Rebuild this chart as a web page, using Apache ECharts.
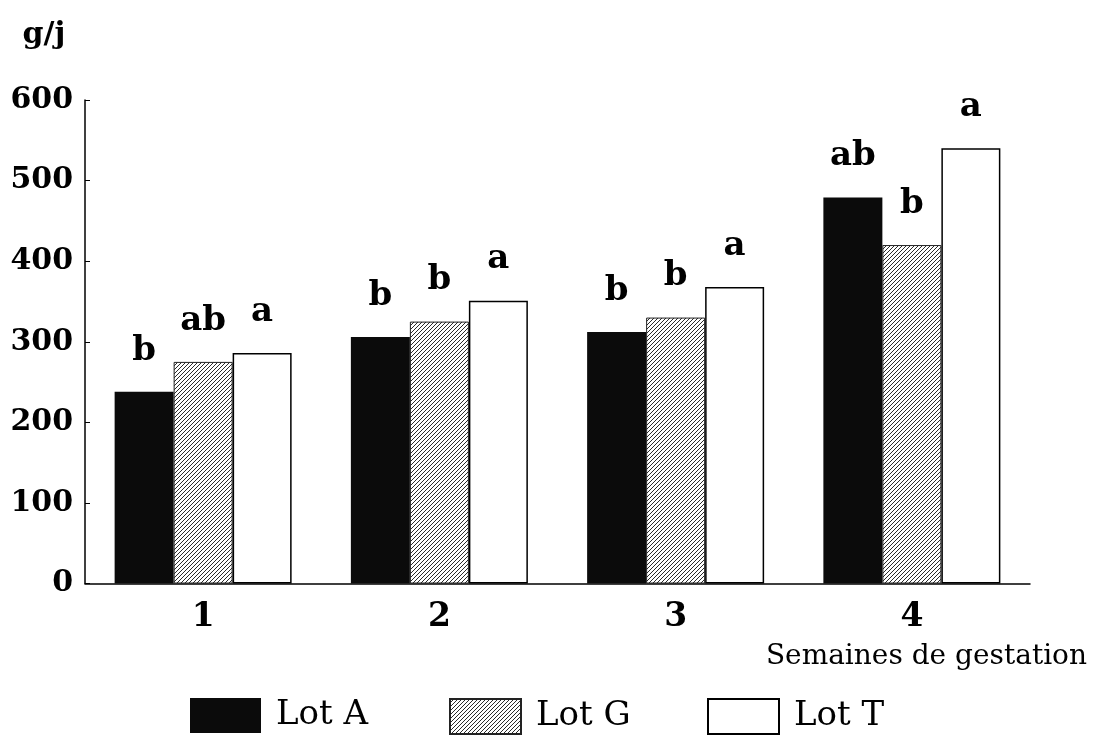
<!DOCTYPE html>
<html>
<head>
<meta charset="utf-8">
<script src="https://cdn.jsdelivr.net/npm/echarts@6/dist/echarts.min.js"></script>
<style>
  html, body { margin: 0; padding: 0; background: #ffffff; }
  #chart { width: 1101px; height: 742px; }
</style>
</head>
<body>
<div id="chart"></div>
<script>
// ---- data ----
const categories = ['1', '2', '3', '4'];
const seriesNames = ['Lot A', 'Lot G', 'Lot T'];
const lotA = [238, 306, 312, 479];
const lotG = [275, 325, 330, 420];
const lotT = [286, 351, 368, 540];
const lettersA = ['b', 'b', 'b', 'ab'];
const lettersG = ['ab', 'b', 'b', 'b'];
const lettersT = ['a', 'a', 'a', 'a'];
const yTicks = [0, 100, 200, 300, 400, 500, 600];
const yAxisTitle = 'g/j';
const xAxisTitle = 'Semaines de gestation';

// ---- hatch pattern for Lot G ----
function makeHatch() {
  const c = document.createElement('canvas');
  c.width = 4; c.height = 4;
  const ctx = c.getContext('2d');
  ctx.fillStyle = '#ffffff';
  ctx.fillRect(0, 0, 4, 4);
  ctx.strokeStyle = '#2a2a2a';
  ctx.lineWidth = 1;
  ctx.beginPath();
  ctx.moveTo(-1, 5); ctx.lineTo(5, -1);
  ctx.moveTo(-1, 1); ctx.lineTo(1, -1);
  ctx.moveTo(3, 5); ctx.lineTo(5, 3);
  ctx.stroke();
  return c;
}
const hatch = { image: makeHatch(), repeat: 'repeat' };

const boldFont = 'DejaVu Serif';
const letterSets = [lettersA, lettersG, lettersT];

function barSeries(name, values, idx, itemStyle) {
  return {
    name: name,
    type: 'bar',
    data: values,
    barWidth: 59,
    barGap: '0%',
    itemStyle: itemStyle,
    label: {
      show: true,
      position: 'top',
      distance: 24,
      formatter: p => letterSets[idx][p.dataIndex],
      fontFamily: boldFont,
      fontWeight: 'bold',
      fontSize: 34,
      color: '#000'
    }
  };
}

const legendLefts = [190, 449, 707];
const legends = seriesNames.map((n, i) => ({
  data: [n],
  left: legendLefts[i],
  top: 698,
  padding: 0,
  itemWidth: 71,
  itemHeight: 35,
  icon: 'rect',
  textStyle: {
    fontFamily: 'DejaVu Serif',
    fontSize: 34,
    color: '#000',
    padding: [0, 0, 0, 10]
  }
}));

const chart = echarts.init(document.getElementById('chart'), null, { renderer: 'canvas' });
chart.setOption({
  backgroundColor: '#ffffff',
  animation: false,
  grid: { left: 85, right: 71, top: 100, bottom: 158.5, containLabel: false },
  legend: legends,
  xAxis: {
    type: 'category',
    data: categories,
    name: xAxisTitle,
    nameLocation: 'end',
    nameGap: 57,
    nameTextStyle: {
      fontFamily: 'DejaVu Serif',
      fontSize: 28,
      color: '#000',
      align: 'right',
      verticalAlign: 'top',
      padding: [59, 0, 0, 0]
    },
    axisLine: { show: true, lineStyle: { color: '#000', width: 1.5 } },
    axisTick: { show: true, inside: true, alignWithLabel: true, length: 6, lineStyle: { color: '#000' } },
    axisLabel: {
      margin: 17,
      fontFamily: boldFont,
      fontWeight: 'bold',
      fontSize: 33,
      color: '#000'
    },
    splitLine: { show: false }
  },
  yAxis: {
    type: 'value',
    min: yTicks[0],
    max: yTicks[yTicks.length - 1],
    interval: 100,
    name: yAxisTitle,
    nameLocation: 'end',
    nameGap: 50,
    nameTextStyle: {
      fontFamily: boldFont,
      fontWeight: 'bold',
      fontSize: 30,
      color: '#000',
      align: 'center',
      padding: [0, 82, 0, 0]
    },
    axisLine: { show: true, lineStyle: { color: '#000', width: 1.5 } },
    axisTick: { show: true, inside: true, length: 5, lineStyle: { color: '#000' } },
    axisLabel: {
      margin: 12,
      fontFamily: boldFont,
      fontWeight: 'bold',
      fontSize: 30,
      color: '#000'
    },
    splitLine: { show: false }
  },
  series: [
    barSeries(seriesNames[0], lotA, 0, { color: '#0b0b0b' }),
    barSeries(seriesNames[1], lotG, 1, { color: hatch, borderColor: '#222', borderWidth: 1 }),
    barSeries(seriesNames[2], lotT, 2, { color: '#ffffff', borderColor: '#000', borderWidth: 1.5 })
  ]
});
</script>
</body>
</html>
